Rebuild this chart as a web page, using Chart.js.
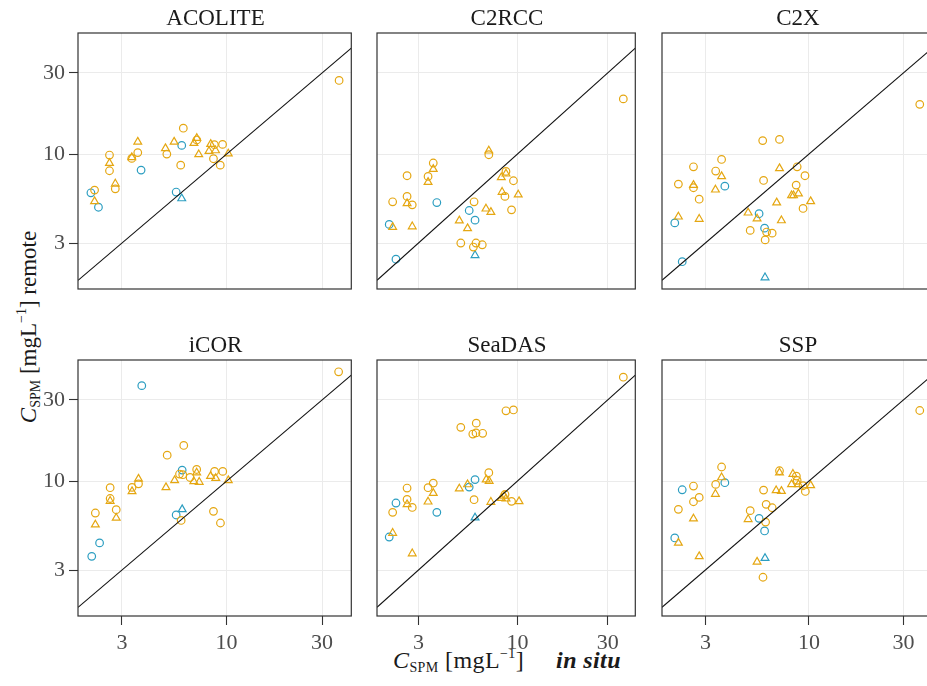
<!DOCTYPE html>
<html>
<head>
<meta charset="utf-8">
<script src="https://cdn.jsdelivr.net/npm/chart.js@4.4.1/dist/chart.umd.min.js"></script>
<style>
html, body { margin: 0; padding: 0; overflow: hidden; background: #fff; width: 927px; height: 686px; }
body { position: relative; font-family: 'Liberation Serif', serif; }
canvas { position: absolute; }
.strip { position: absolute; text-align: center; font-size: 23px; line-height: 23px; color: #1a1a1a; white-space: nowrap; }
.axtitle { position: absolute; font-size: 23px; line-height: 23px; color: #1a1a1a; white-space: nowrap; }
.axtitle sub { font-size: 14px; vertical-align: -4px; line-height: 0; }
.axtitle sup { font-size: 14px; vertical-align: 10px; line-height: 0; }
#xtitle { font-size: 24px; letter-spacing: 0.4px; }
</style>
</head>
<body>
<div class="axtitle" id="xtitle" style="left:393px; top:649px;"><i>C</i><sub>SPM</sub> [mgL<sup>&minus;1</sup>]&nbsp;&nbsp;&nbsp;&nbsp; <b><i>in situ</i></b></div>
<div class="axtitle" id="ytitle" style="left:28px; top:327px; transform: translate(-50%, -50%) rotate(-90deg);"><i>C</i><sub>SPM</sub> [mgL<sup>&minus;1</sup>] remote</div>
<script>
"use strict";

var methods = ['ACOLITE', 'C2RCC', 'C2X', 'iCOR', 'SeaDAS', 'SSP'];
var xTicks = [3, 10, 30];
var yTicks = [3, 10, 30];
var xRange = [1.81, 42];
var yRange = [1.61, 51.5];

// [in situ, remote] pairs
var acoliteOrangeCircles = [[36.5,27.1],[6.08,14.2],[7.1,12.1],[5.03,10.0],[2.60,9.87],[3.6,10.2],[3.36,9.43],[8.69,11.35],[9.55,11.4],[8.6,9.39],[9.3,8.61],[5.9,8.61],[2.60,7.98],[2.78,6.25],[2.19,6.14]];
var acoliteOrangeTriangles = [[7.1,12.4],[3.6,11.8],[5.47,11.8],[6.87,11.6],[8.33,11.45],[4.95,10.8],[3.36,9.56],[7.26,9.95],[8.17,10.4],[8.81,10.5],[10.2,10.05],[2.60,8.85],[2.78,6.69],[2.19,5.27]];
var acoliteBlueCircles = [[5.97,11.25],[3.74,8.05],[2.10,5.92],[5.6,5.98],[2.29,4.87]];
var acoliteBlueTriangles = [[5.97,5.48]];

var c2rccOrangeCircles = [[36.3,21.1],[7.06,9.91],[3.59,8.86],[2.61,7.46],[3.37,7.39],[8.7,7.91],[9.53,6.97],[8.59,5.64],[2.61,5.64],[2.78,5.03],[2.19,5.24],[5.9,5.24],[9.31,4.7],[5.02,3.0],[6.04,3.0],[5.85,2.84],[6.52,2.93]];
var c2rccOrangeTriangles = [[7.06,10.46],[3.59,8.16],[3.37,6.84],[8.7,7.66],[8.22,7.29],[8.3,5.98],[10.1,5.77],[2.61,5.13],[6.82,4.77],[7.24,4.56],[2.19,3.72],[2.78,3.75],[4.93,4.06],[5.45,3.66]];
var c2rccBlueCircles = [[3.75,5.19],[5.56,4.66],[2.1,3.86],[5.97,4.09],[2.28,2.41]];
var c2rccBlueTriangles = [[5.97,2.54]];

var c2xOrangeCircles = [[36.3,19.6],[5.84,12.0],[7.1,12.2],[3.62,9.3],[2.61,8.42],[8.72,8.42],[3.38,7.95],[9.55,7.46],[5.9,7.0],[2.19,6.66],[2.61,6.34],[8.62,6.57],[2.79,5.43],[9.34,4.79],[5.05,3.56],[6.11,3.48],[6.52,3.43],[6.01,3.13]];
var c2xOrangeTriangles = [[3.62,7.39],[7.1,8.24],[2.61,6.57],[3.37,6.17],[8.17,5.71],[8.36,5.71],[8.85,5.85],[10.2,5.27],[6.87,5.18],[4.93,4.52],[5.47,4.17],[2.19,4.28],[2.79,4.15],[7.26,4.07]];
var c2xBlueCircles = [[3.76,6.48],[5.6,4.46],[2.1,3.94],[5.97,3.67],[2.29,2.33]];
var c2xBlueTriangles = [[6.0,1.88]];

var icorOrangeCircles = [[36.3,43.9],[6.11,16.2],[5.05,14.2],[7.09,11.7],[9.57,11.4],[8.71,11.4],[5.82,11.0],[6.04,10.9],[6.57,10.5],[3.63,9.64],[3.37,9.18],[2.62,9.14],[2.62,7.9],[2.81,6.79],[5.93,5.87],[8.6,6.64],[9.32,5.67],[2.21,6.49]];
var icorOrangeTriangles = [[7.09,11.2],[8.32,10.7],[8.83,10.4],[5.5,10.1],[6.86,9.95],[7.3,9.87],[10.2,10.1],[3.63,10.3],[3.37,8.7],[4.98,9.18],[2.62,7.63],[2.81,6.07],[2.21,5.54]];
var icorBlueCircles = [[3.77,36.4],[6.0,11.6],[5.6,6.32],[2.32,4.33],[2.12,3.61]];
var icorBlueTriangles = [[6.0,6.82]];

var seadasOrangeCircles = [[36.3,40.8],[8.7,25.9],[9.53,26.2],[5.02,20.7],[6.06,21.9],[5.81,18.9],[6.04,19.2],[6.55,19.1],[7.06,11.2],[3.59,9.73],[2.61,9.1],[3.37,9.14],[8.6,8.35],[9.31,7.6],[5.9,7.77],[2.61,7.8],[2.78,7.0],[2.19,6.55]];
var seadasOrangeTriangles = [[6.84,10.2],[7.09,10.0],[3.59,8.5],[3.37,7.56],[5.45,9.55],[4.93,9.02],[8.22,7.94],[8.5,8.17],[8.7,7.87],[10.2,7.6],[7.24,7.53],[2.61,7.3],[2.19,4.95],[2.78,3.75]];
var seadasBlueCircles = [[5.97,10.2],[5.56,9.22],[2.28,7.43],[3.75,6.55],[2.1,4.69]];
var seadasBlueTriangles = [[5.97,6.09]];

var sspOrangeCircles = [[36.3,26.0],[3.62,12.1],[7.1,11.5],[8.64,10.7],[8.72,10.1],[9.34,9.39],[9.59,8.69],[3.38,9.56],[2.61,9.35],[5.9,8.85],[2.79,8.02],[2.61,7.56],[6.08,7.3],[6.52,6.97],[2.19,6.82],[5.05,6.7],[6.04,5.74],[5.86,2.72]];
var sspOrangeTriangles = [[3.62,10.5],[7.1,11.2],[8.3,11.0],[8.17,9.56],[8.85,9.56],[10.2,9.43],[6.83,8.81],[7.26,8.73],[3.37,8.39],[4.93,5.96],[2.61,6.01],[2.19,4.33],[2.79,3.61],[5.47,3.35]];
var sspBlueCircles = [[3.76,9.78],[2.29,8.89],[5.6,6.04],[5.97,5.09],[2.1,4.63]];
var sspBlueTriangles = [[6.0,3.52]];

var panelData = [
	[acoliteOrangeCircles, acoliteOrangeTriangles, acoliteBlueCircles, acoliteBlueTriangles],
	[c2rccOrangeCircles, c2rccOrangeTriangles, c2rccBlueCircles, c2rccBlueTriangles],
	[c2xOrangeCircles, c2xOrangeTriangles, c2xBlueCircles, c2xBlueTriangles],
	[icorOrangeCircles, icorOrangeTriangles, icorBlueCircles, icorBlueTriangles],
	[seadasOrangeCircles, seadasOrangeTriangles, seadasBlueCircles, seadasBlueTriangles],
	[sspOrangeCircles, sspOrangeTriangles, sspBlueCircles, sspBlueTriangles]
];

var ORANGE = '#E5A712';
var BLUE = '#2C9EC1';
var groupStyle = [
	{color: ORANGE, shape: 'circle', r: 3.8},
	{color: ORANGE, shape: 'triangle', r: 4.5},
	{color: BLUE, shape: 'circle', r: 3.8},
	{color: BLUE, shape: 'triangle', r: 4.5}
];

// panel layout (plot area, px)
var cols = [{left: 78, w: 275}, {left: 377, w: 260}, {left: 662, w: 272}];
var rows = [33, 360];
var plotH = 256;
var AXW = 80, AXH = 50, PADT = 18, PADR = 4;

var framePlugin = {
	id: 'frame',
	afterDraw: function (chart) {
		var a = chart.chartArea;
		var ctx = chart.ctx;
		ctx.save();
		ctx.strokeStyle = '#333333';
		ctx.lineWidth = 1.2;
		ctx.strokeRect(a.left, a.top, a.right - a.left, a.bottom - a.top);
		ctx.restore();
	}
};

var tickFont = {family: 'Liberation Serif', size: 22};

methods.forEach(function (name, i) {
	var col = cols[i % 3];
	var rowTop = rows[Math.floor(i / 3)];
	var showX = i >= 3;
	var showY = i % 3 === 0;

	var canvas = document.createElement('canvas');
	canvas.width = AXW + col.w + PADR;
	canvas.height = PADT + plotH + AXH;
	canvas.style.left = (col.left - AXW) + 'px';
	canvas.style.top = (rowTop - PADT) + 'px';
	document.body.appendChild(canvas);

	var strip = document.createElement('div');
	strip.className = 'strip';
	strip.textContent = name;
	strip.style.left = col.left + 'px';
	strip.style.width = col.w + 'px';
	strip.style.top = (rowTop - 27) + 'px';
	document.body.appendChild(strip);

	var datasets = [{
		label: '1:1',
		data: [{x: xRange[0], y: xRange[0]}, {x: xRange[1], y: xRange[1]}],
		showLine: true,
		borderColor: '#111111',
		borderWidth: 1.1,
		pointRadius: 0
	}];
	panelData[i].forEach(function (pts, g) {
		var st = groupStyle[g];
		datasets.push({
			label: name + ' ' + g,
			data: pts.map(function (p) { return {x: p[0], y: p[1]}; }),
			pointStyle: st.shape,
			pointRadius: st.r,
			borderColor: st.color,
			backgroundColor: 'rgba(0,0,0,0)',
			pointBorderWidth: 1.2,
			showLine: false
		});
	});

	new Chart(canvas.getContext('2d'), {
		type: 'scatter',
		data: {datasets: datasets},
		plugins: [framePlugin],
		options: {
			responsive: false,
			animation: false,
			devicePixelRatio: 1,
			layout: {padding: {top: PADT, right: PADR, left: 0, bottom: 0}},
			plugins: {legend: {display: false}, tooltip: {enabled: false}},
			scales: {
				x: {
					type: 'logarithmic',
					min: xRange[0],
					max: xRange[1],
					bounds: 'data',
					afterBuildTicks: function (s) { s.ticks = xTicks.map(function (v) { return {value: v}; }); },
					afterFit: function (s) { s.height = AXH; },
					border: {display: false},
					grid: {color: '#EBEBEB', lineWidth: 1, drawTicks: showX, tickLength: 9, tickColor: '#333333', tickWidth: 1.1},
					ticks: {display: showX, padding: 5, color: '#4D4D4D', font: tickFont, maxRotation: 0, autoSkip: false,
						callback: function (v) { return String(v); }}
				},
				y: {
					type: 'logarithmic',
					min: yRange[0],
					max: yRange[1],
					bounds: 'data',
					afterBuildTicks: function (s) { s.ticks = yTicks.map(function (v) { return {value: v}; }); },
					afterFit: function (s) { s.width = AXW; },
					border: {display: false},
					grid: {color: '#EBEBEB', lineWidth: 1, drawTicks: showY, tickLength: 9, tickColor: '#333333', tickWidth: 1.1},
					ticks: {display: showY, padding: 4, color: '#4D4D4D', font: tickFont, autoSkip: false,
						callback: function (v) { return String(v); }}
				}
			}
		}
	});
});
</script>
</body>
</html>
